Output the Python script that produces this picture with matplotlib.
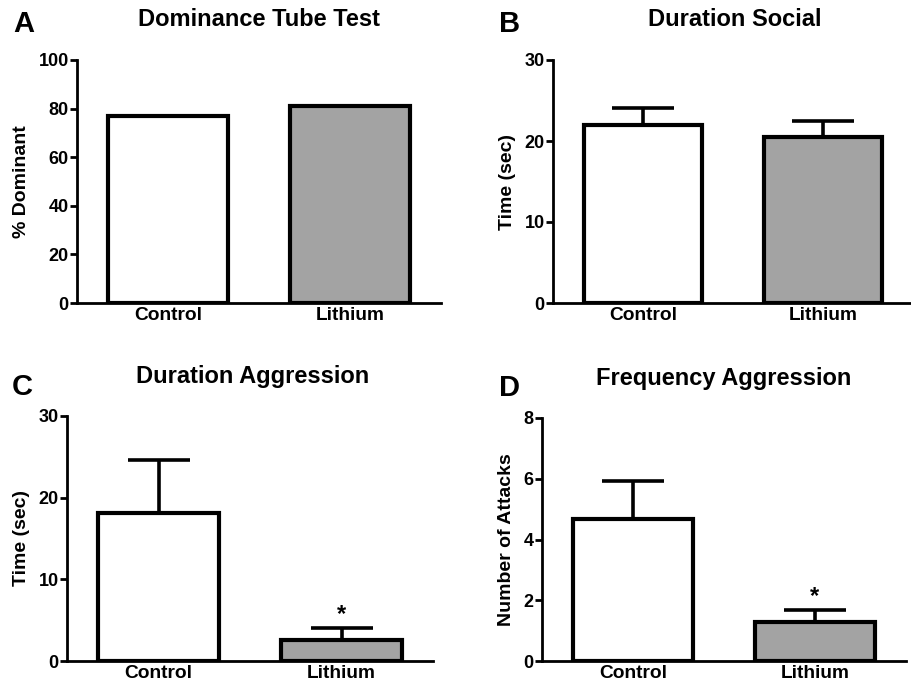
import numpy as np
import matplotlib.pyplot as plt

plt.rcParams['font.family'] = ['Liberation Sans', 'DejaVu Sans']
plt.rcParams['font.weight'] = 'bold'

groups = ['Control', 'Lithium']
colors = ['white', '#a3a3a3']

dom_pct = [77, 81]

social_mean = [22.0, 20.5]
social_sem = [2.1, 2.0]

agg_dur_mean = [18.1, 2.6]
agg_dur_sem = [6.5, 1.4]

agg_freq_mean = [4.67, 1.28]
agg_freq_sem = [1.27, 0.40]

W, H = 911, 688
fig = plt.figure(figsize=(W / 100, H / 100), dpi=100)


def panel(rect, means, sems, ymax, step, ylabel, title, title_x, title_y,
          letter, letter_xy, star=False):
    ax = fig.add_axes(rect)
    x = np.arange(len(groups))
    if sems is not None:
        ax.errorbar(x, means, yerr=[np.zeros(len(sems)), sems], fmt='none',
                    ecolor='black', elinewidth=2.6, capsize=22, capthick=2.6,
                    zorder=1)
    ax.bar(x, means, width=0.66, color=colors, edgecolor='black',
           linewidth=3, zorder=2)
    ax.set_xlim(-0.5, 1.5)
    ax.set_ylim(0, ymax)
    ax.set_yticks(np.arange(0, ymax + step / 2, step))
    ax.set_xticks(x)
    ax.set_xticklabels(groups, fontsize=13.8, fontweight='bold')
    ax.tick_params(axis='x', length=0, pad=3)
    ax.tick_params(axis='y', length=5, width=2, labelsize=13, pad=1)
    for lbl in ax.get_yticklabels():
        lbl.set_fontweight('bold')
    ax.set_ylabel(ylabel, fontsize=14, fontweight='bold', labelpad=6)
    for s in ('top', 'right'):
        ax.spines[s].set_visible(False)
    for s in ('left', 'bottom'):
        ax.spines[s].set_linewidth(2)
    if star:
        ax.text(1, means[1] + sems[1] + ymax * 0.01, '*', ha='center',
                va='bottom', fontsize=17, fontweight='bold')
    fig.text(title_x / W, 1 - title_y / H, title, ha='center', va='center',
             fontsize=17, fontweight='bold')
    fig.text(letter_xy[0] / W, 1 - letter_xy[1] / H, letter, ha='left',
             va='center', fontsize=21, fontweight='bold')
    return ax


panel([77 / W, 1 - 303 / H, 364 / W, 243 / H], dom_pct, None, 100, 20,
      '% Dominant', 'Dominance Tube Test', 259, 19, 'A', (13, 24))
panel([553 / W, 1 - 303 / H, 360 / W, 243 / H], social_mean, social_sem, 30, 10,
      'Time (sec)', 'Duration Social', 735, 19, 'B', (499, 24))
panel([67 / W, 1 - 661 / H, 366 / W, 245 / H], agg_dur_mean, agg_dur_sem, 30, 10,
      'Time (sec)', 'Duration Aggression', 253, 377, 'C', (12, 387), star=True)
panel([542 / W, 1 - 661 / H, 364 / W, 243 / H], agg_freq_mean, agg_freq_sem, 8, 2,
      'Number of Attacks', 'Frequency Aggression', 724, 378, 'D', (499, 388),
      star=True)

fig.savefig('out.png', dpi=100)
